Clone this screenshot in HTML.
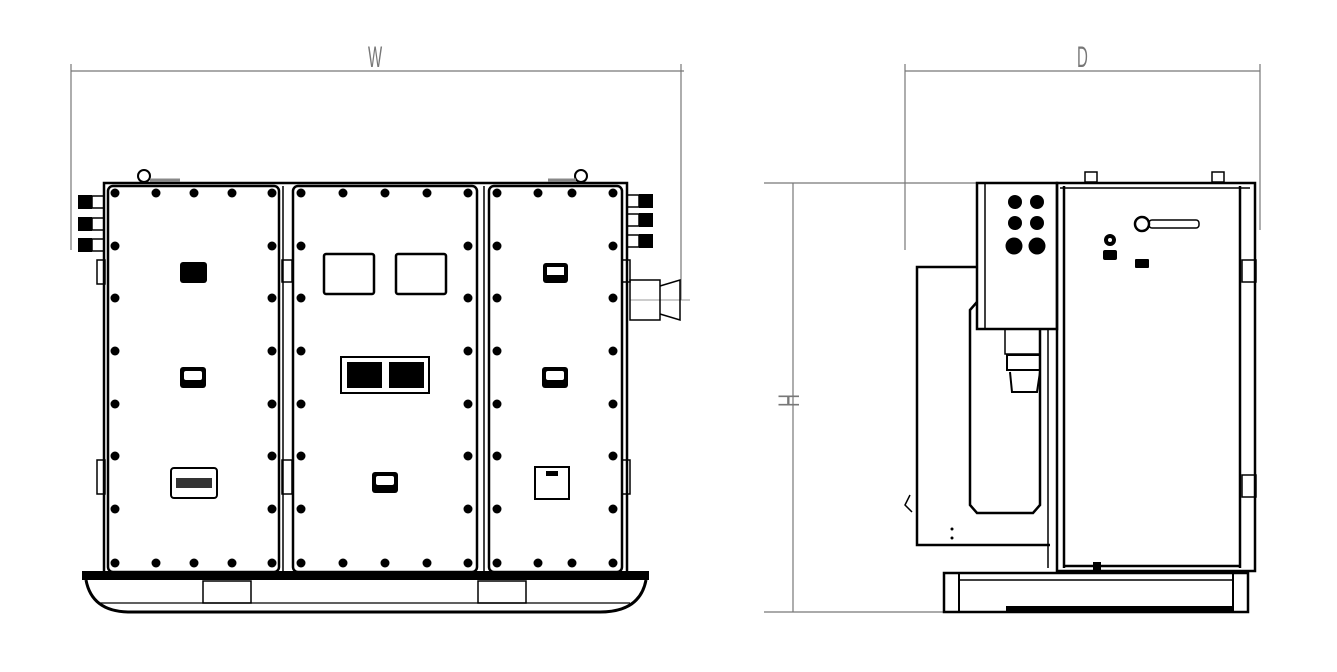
<!DOCTYPE html>
<html><head><meta charset="utf-8"><style>
html,body{margin:0;padding:0;background:#fff;}
svg{display:block;}
</style></head><body>
<svg width="1337" height="672" viewBox="0 0 1337 672" xmlns="http://www.w3.org/2000/svg">
<g fill="none" stroke="#777" stroke-width="1.2">
  <line x1="71" y1="71" x2="684" y2="71"/>
  <line x1="71" y1="64" x2="71" y2="250"/>
  <line x1="681" y1="64" x2="681" y2="300"/>
  <line x1="905" y1="71" x2="1260" y2="71"/>
  <line x1="905" y1="64" x2="905" y2="250"/>
  <line x1="1260" y1="64" x2="1260" y2="230"/>
  <line x1="793" y1="183" x2="793" y2="612"/>
  <line x1="764" y1="183" x2="985" y2="183"/>
  <line x1="764" y1="612" x2="945" y2="612"/>
  <line x1="630" y1="300" x2="690" y2="300" stroke-width="0.8"/>
</g>
<g fill="#777" font-family="Liberation Sans, sans-serif">
  <text x="0" y="0" font-size="30" transform="translate(368,67) scale(0.5,1)">W</text>
  <text x="0" y="0" font-size="30" transform="translate(1077,67) scale(0.5,1)">D</text>
  <text x="0" y="0" font-size="30" transform="translate(799,407) rotate(-90) scale(0.6,1)">H</text>
</g>

<!-- FRONT VIEW -->
<g fill="none" stroke="#000" stroke-width="2.5">
  <rect x="104" y="183" width="523" height="390"/>
  <rect x="108" y="186" width="171" height="386" rx="5"/>
  <rect x="293" y="186" width="184" height="386" rx="5"/>
  <rect x="489" y="186" width="133" height="386" rx="5"/>
  <line x1="283" y1="186" x2="283" y2="572" stroke-width="1.5"/>
  <line x1="484" y1="186" x2="484" y2="572" stroke-width="1.5"/>
  <rect x="324" y="254" width="50" height="40" rx="2"/>
  <rect x="396" y="254" width="50" height="40" rx="2"/>
  <rect x="341" y="357" width="88" height="36" stroke-width="2"/>
  <rect x="171" y="468" width="46" height="30" rx="3" stroke-width="2"/>
  <rect x="535" y="467" width="34" height="32" stroke-width="2"/>
  <rect x="97" y="260" width="8" height="24" stroke-width="1.5"/>
  <rect x="97" y="460" width="8" height="34" stroke-width="1.5"/>
  <rect x="282" y="260" width="10" height="22" stroke-width="1.5"/>
  <rect x="282" y="460" width="10" height="34" stroke-width="1.5"/>
  <rect x="622" y="260" width="8" height="22" stroke-width="1.5"/>
  <rect x="622" y="460" width="8" height="34" stroke-width="1.5"/>
  <rect x="630" y="280" width="30" height="40" stroke-width="1.5"/>
  <path d="M660 286 L680 280 L680 320 L660 314" stroke-width="1.5"/>
  <path d="M86 580 Q92 612 130 612 L600 612 Q640 612 646 580" stroke-width="3"/>
  <line x1="100" y1="603" x2="630" y2="603" stroke-width="1.2"/>
  <rect x="203" y="581" width="48" height="22" stroke-width="1.5"/>
  <rect x="478" y="581" width="48" height="22" stroke-width="1.5"/>
  <circle cx="144" cy="176" r="6" stroke-width="2"/>
  <circle cx="581" cy="176" r="6" stroke-width="2"/>
  <line x1="150" y1="180" x2="180" y2="180" stroke="#888" stroke-width="3"/>
  <line x1="548" y1="180" x2="576" y2="180" stroke="#888" stroke-width="3"/>
  <!-- connector collars -->
  <rect x="92" y="196" width="12" height="12" stroke-width="1.5"/>
  <rect x="92" y="218" width="12" height="12" stroke-width="1.5"/>
  <rect x="92" y="239" width="12" height="12" stroke-width="1.5"/>
  <rect x="627" y="195" width="12" height="12" stroke-width="1.5"/>
  <rect x="627" y="214" width="12" height="12" stroke-width="1.5"/>
  <rect x="627" y="235" width="12" height="12" stroke-width="1.5"/>
</g>
<rect x="82" y="571" width="567" height="9" fill="#000"/>
<g fill="#000">
  <rect x="180" y="262" width="27" height="21" rx="3"/>
  <rect x="543" y="263" width="25" height="20" rx="3"/>
  <rect x="180" y="367" width="26" height="21" rx="3"/>
  <rect x="542" y="367" width="26" height="21" rx="3"/>
  <rect x="372" y="472" width="26" height="21" rx="3"/>
  <rect x="347" y="362" width="35" height="26"/>
  <rect x="389" y="362" width="35" height="26"/>
  <rect x="176" y="478" width="36" height="10" fill="#333"/>
  <rect x="546" y="471" width="12" height="5"/>
  <rect x="78" y="195" width="14" height="14"/>
  <rect x="78" y="217" width="14" height="14"/>
  <rect x="78" y="238" width="14" height="14"/>
  <rect x="639" y="194" width="14" height="14"/>
  <rect x="639" y="213" width="14" height="14"/>
  <rect x="639" y="234" width="14" height="14"/>
</g>
<g fill="#fff">
  <rect x="184" y="371" width="18" height="9" rx="2"/>
  <rect x="546" y="371" width="18" height="9" rx="2"/>
  <rect x="376" y="476" width="18" height="9" rx="2"/>
  <rect x="547" y="267" width="17" height="8"/>
</g>
<g fill="#000">
<circle cx="115" cy="193" r="4.5"/><circle cx="156" cy="193" r="4.5"/><circle cx="194" cy="193" r="4.5"/><circle cx="232" cy="193" r="4.5"/><circle cx="272" cy="193" r="4.5"/>
<circle cx="115" cy="563" r="4.5"/><circle cx="156" cy="563" r="4.5"/><circle cx="194" cy="563" r="4.5"/><circle cx="232" cy="563" r="4.5"/><circle cx="272" cy="563" r="4.5"/>
<circle cx="115" cy="246" r="4.5"/><circle cx="115" cy="298" r="4.5"/><circle cx="115" cy="351" r="4.5"/><circle cx="115" cy="404" r="4.5"/><circle cx="115" cy="456" r="4.5"/><circle cx="115" cy="509" r="4.5"/>
<circle cx="272" cy="246" r="4.5"/><circle cx="272" cy="298" r="4.5"/><circle cx="272" cy="351" r="4.5"/><circle cx="272" cy="404" r="4.5"/><circle cx="272" cy="456" r="4.5"/><circle cx="272" cy="509" r="4.5"/>
<circle cx="301" cy="193" r="4.5"/><circle cx="343" cy="193" r="4.5"/><circle cx="385" cy="193" r="4.5"/><circle cx="427" cy="193" r="4.5"/><circle cx="468" cy="193" r="4.5"/>
<circle cx="301" cy="563" r="4.5"/><circle cx="343" cy="563" r="4.5"/><circle cx="385" cy="563" r="4.5"/><circle cx="427" cy="563" r="4.5"/><circle cx="468" cy="563" r="4.5"/>
<circle cx="301" cy="246" r="4.5"/><circle cx="301" cy="298" r="4.5"/><circle cx="301" cy="351" r="4.5"/><circle cx="301" cy="404" r="4.5"/><circle cx="301" cy="456" r="4.5"/><circle cx="301" cy="509" r="4.5"/>
<circle cx="468" cy="246" r="4.5"/><circle cx="468" cy="298" r="4.5"/><circle cx="468" cy="351" r="4.5"/><circle cx="468" cy="404" r="4.5"/><circle cx="468" cy="456" r="4.5"/><circle cx="468" cy="509" r="4.5"/>
<circle cx="497" cy="193" r="4.5"/><circle cx="538" cy="193" r="4.5"/><circle cx="572" cy="193" r="4.5"/><circle cx="613" cy="193" r="4.5"/>
<circle cx="497" cy="563" r="4.5"/><circle cx="538" cy="563" r="4.5"/><circle cx="572" cy="563" r="4.5"/><circle cx="613" cy="563" r="4.5"/>
<circle cx="497" cy="246" r="4.5"/><circle cx="497" cy="298" r="4.5"/><circle cx="497" cy="351" r="4.5"/><circle cx="497" cy="404" r="4.5"/><circle cx="497" cy="456" r="4.5"/><circle cx="497" cy="509" r="4.5"/>
<circle cx="613" cy="246" r="4.5"/><circle cx="613" cy="298" r="4.5"/><circle cx="613" cy="351" r="4.5"/><circle cx="613" cy="404" r="4.5"/><circle cx="613" cy="456" r="4.5"/><circle cx="613" cy="509" r="4.5"/>
</g>

<!-- SIDE VIEW -->
<g fill="none" stroke="#000" stroke-width="2.5">
  <rect x="1057" y="183" width="198" height="388"/>
  <line x1="1064" y1="186" x2="1064" y2="568"/>
  <line x1="1240" y1="186" x2="1240" y2="568"/>
  <line x1="1064" y1="566" x2="1240" y2="566"/>
  <line x1="1060" y1="188" x2="1250" y2="188" stroke-width="1.5"/>
  <rect x="977" y="183" width="80" height="146"/>
  <line x1="985" y1="183" x2="985" y2="329" stroke-width="1.5"/>
  <path d="M977 267 L917 267 L917 545 L1050 545"/>
  <path d="M977 302 L970 310 L970 505 L977 513 L1033 513 L1040 505 L1040 329"/>
  <rect x="1005" y="329" width="35" height="25" stroke-width="1.5"/>
  <rect x="1007" y="355" width="33" height="15" stroke-width="2"/>
  <path d="M1010 372 L1012 392 L1037 392 L1040 372" stroke-width="2"/>
  <line x1="1048" y1="330" x2="1048" y2="568" stroke-width="1.5"/>
  <rect x="944" y="573" width="304" height="39"/>
  <line x1="959" y1="573" x2="959" y2="612" stroke-width="2"/>
  <line x1="1233" y1="573" x2="1233" y2="612" stroke-width="2"/>
  <line x1="959" y1="580" x2="1233" y2="580" stroke-width="1.5"/>
  <rect x="1242" y="260" width="14" height="22" stroke-width="1.5"/>
  <rect x="1242" y="475" width="14" height="22" stroke-width="1.5"/>
  <circle cx="1142" cy="224" r="7" stroke-width="2.5"/>
  <rect x="1149" y="220" width="50" height="8" rx="3" stroke-width="1.5"/>
  <rect x="1085" y="172" width="12" height="10" stroke-width="1.5"/>
  <rect x="1212" y="172" width="12" height="10" stroke-width="1.5"/>
  <path d="M910 495 L905 505 L912 512" stroke-width="1.5"/>
</g>
<rect x="1006" y="606" width="227" height="6" fill="#000"/>
<g fill="#000">
  <circle cx="1015" cy="202" r="7"/><circle cx="1037" cy="202" r="7"/>
  <circle cx="1015" cy="223" r="7"/><circle cx="1037" cy="223" r="7"/>
  <circle cx="1014" cy="246" r="8.5"/><circle cx="1037" cy="246" r="8.5"/>
  <circle cx="1110" cy="240" r="6"/>
  <rect x="1103" y="250" width="14" height="10" rx="2"/>
  <rect x="1135" y="259" width="14" height="9" rx="1"/>
  <rect x="1093" y="562" width="8" height="10"/>
  <circle cx="952" cy="529" r="1.5"/><circle cx="952" cy="538" r="1.5"/>
</g>
<circle cx="1110" cy="240" r="2" fill="#fff"/>
</svg>
</body></html>
